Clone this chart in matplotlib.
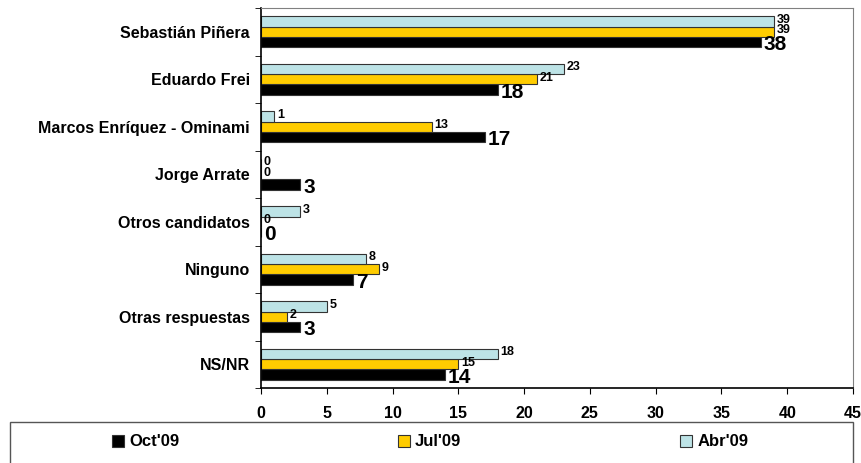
import matplotlib.pyplot as plt
import matplotlib.patches as mpatches
import numpy as np

plt.rcParams["font.family"] = ["Liberation Sans", "DejaVu Sans"]
plt.rcParams["font.weight"] = "bold"

categories = ["Sebastián Piñera", "Eduardo Frei", "Marcos Enríquez - Ominami",
              "Jorge Arrate", "Otros candidatos", "Ninguno",
              "Otras respuestas", "NS/NR"]
oct09 = [38, 18, 17, 3, 0, 7, 3, 14]
jul09 = [39, 21, 13, 0, 0, 9, 2, 15]
abr09 = [39, 23, 1, 0, 3, 8, 5, 18]

series = [("Oct'09", oct09, "#000000", 15), ("Jul'09", jul09, "#FFCC00", 9),
          ("Abr'09", abr09, "#BDE3E6", 9)]


def main():
    fig = plt.figure(figsize=(8.62, 4.63), dpi=100)
    ax = fig.add_axes([261 / 862, 1 - 388 / 463, 592 / 862, 380 / 463])

    n = len(categories)
    centers = np.arange(n)
    h = 0.22
    offsets = [h, 0, -h]  # Oct bottom, Jul middle, Abr top (y inverted later)
    handles = []
    for (name, vals, color, fs), off in zip(series, offsets):
        y = centers + off
        bars = ax.barh(y, vals, height=h, color=color, edgecolor="#333333",
                       linewidth=0.8, label=name)
        handles.append(bars)
        for yi, v in zip(y, vals):
            dy = 0.05 if fs > 10 else -0.03
            ax.text(v + 0.2, yi + dy, str(v), va="center", ha="left",
                    fontsize=fs, fontweight="bold")

    ax.set_ylim(n - 0.5, -0.5)
    ax.set_xlim(0, 45)
    ax.set_xticks(range(0, 46, 5))
    ax.set_yticks(centers)
    ax.set_yticklabels(categories, fontsize=11.5, fontweight="bold")
    ax.set_yticks(np.arange(-0.5, n, 1), minor=True)
    ax.tick_params(axis="y", which="major", length=0, pad=8)
    ax.tick_params(axis="y", which="minor", length=4, direction="out")
    ax.tick_params(axis="x", length=4, direction="out", labelsize=11.5, pad=9)
    for lab in ax.get_xticklabels():
        lab.set_fontweight("bold")
    for s in ["top", "right"]:
        ax.spines[s].set_color("#808080")
    for s in ["left", "bottom"]:
        ax.spines[s].set_linewidth(1.2)

    box = mpatches.Rectangle((10 / 862, -0.05), 843 / 862, 0.05 + 41 / 463,
                             transform=fig.transFigure, fill=False,
                             edgecolor="#555555", linewidth=1.0)
    fig.patches.append(box)
    fig.legend(handles=handles, loc="center", ncol=3,
               bbox_to_anchor=(430 / 862, 1 - 442 / 463), frameon=False,
               handlelength=0.75, handleheight=0.75, handletextpad=0.3,
               columnspacing=13.1, prop={"weight": "bold", "size": 12})

    fig.savefig("out.png", dpi=100)


if __name__ == "__main__":
    main()
